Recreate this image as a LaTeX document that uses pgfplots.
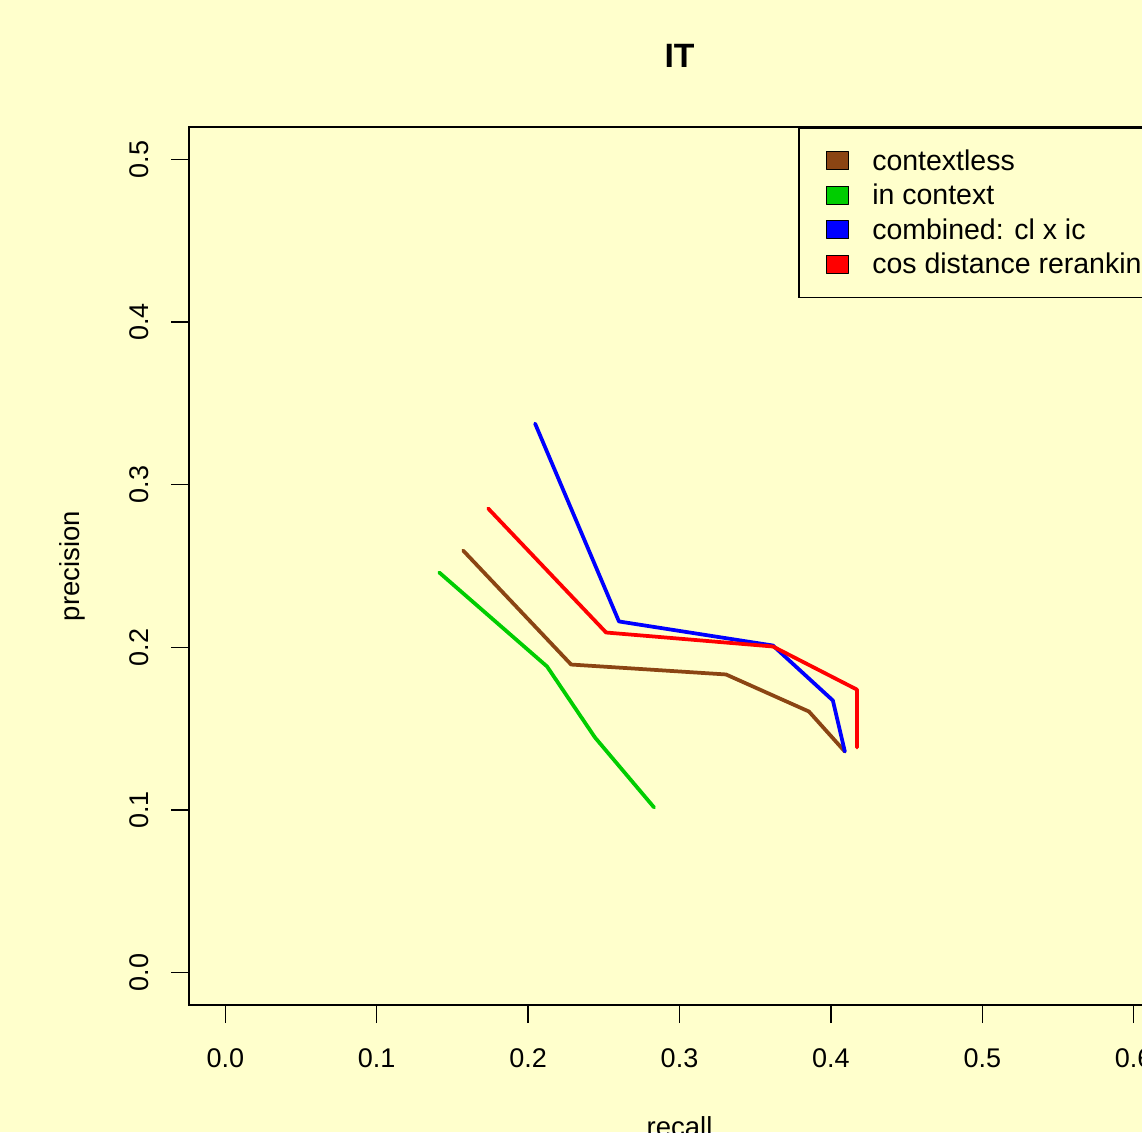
\documentclass[border=0pt]{standalone}
\usepackage{fontspec}
\setmainfont{Liberation Sans}
\usepackage{pgfplots}
\pgfplotsset{compat=1.18}
\definecolor{bgc}{HTML}{FFFFCC}
\definecolor{cbrown}{HTML}{8B4513}
\definecolor{cgreen}{HTML}{00CD00}
\begin{document}
\begin{tikzpicture}[x=1pt,y=1pt]
\fill[bgc] (0,0) rectangle (456.8,452.8);
\begin{axis}[
  at={(75.6pt,50.8pt)}, anchor=south west,
  scale only axis, width=392.4pt, height=351.2pt,
  xmin=-0.024, xmax=0.624, ymin=-0.02, ymax=0.52,
  xtick={0,0.1,0.2,0.3,0.4,0.5,0.6},
  ytick={0,0.1,0.2,0.3,0.4,0.5},
  tick pos=left, tick align=outside, major tick length=7.2pt,
  xticklabel shift=6.8pt, yticklabel shift=5.3pt,
  /pgf/number format/fixed, /pgf/number format/fixed zerofill,
  /pgf/number format/precision=1, /pgf/number format/assume math mode=true,
  tick label style={font=\fontsize{10.8}{13}\selectfont},
  yticklabel style={rotate=90, anchor=south},
  axis line style={line width=0.6pt},
  every tick/.style={black, line width=0.6pt},
  title={IT},
  title style={at={(axis description cs:0.5,1.0642)}, anchor=center, font=\fontsize{13.5}{16}\selectfont\bfseries},
  xlabel={recall},
  xlabel style={at={(axis description cs:0.5,-0.1389)}, anchor=center, font=\fontsize{11}{13}\selectfont},
  ylabel={precision},
  ylabel style={at={(axis description cs:-0.1193,0.5)}, anchor=center, font=\fontsize{11}{13}\selectfont},
  legend style={at={(1,1)}, anchor=north east, draw=black, line width=0.6pt, fill=bgc,
    font=\fontsize{11.4}{13}\selectfont, inner xsep=5.3pt, inner ysep=8.2pt,
    row sep=3.8pt, column sep=9.2pt,
    nodes={inner sep=0pt, text height=8.7pt, text depth=1.3pt}},
  legend cell align=left,
  legend image code/.code={\path (0pt,0pt); \filldraw[#1, draw=black, line width=0.5pt] (5.1pt,-3.6pt) rectangle (13.9pt,3.6pt);},
  every axis plot/.append style={line width=1.5pt, line cap=round, line join=round},
]
\addplot[color=cbrown] coordinates {(0.1571,0.2595) (0.2284,0.1894) (0.3307,0.1833) (0.3855,0.1605) (0.4092,0.1359)};
\addlegendentry{\makebox[113.5pt][l]{contextless}}
\addplot[color=cgreen] coordinates {(0.1413,0.2460) (0.2125,0.1882) (0.2442,0.1445) (0.2832,0.1015)};
\addlegendentry{\makebox[113.5pt][l]{in context}}
\addplot[color=blue] coordinates {(0.2046,0.3376) (0.2600,0.2159) (0.3617,0.2011) (0.4013,0.1673) (0.4092,0.1359)};
\addlegendentry{\makebox[113.5pt][l]{combined: cl x ic}}
\addplot[color=red] coordinates {(0.1736,0.2854) (0.2515,0.2091) (0.3617,0.2005) (0.4172,0.1740) (0.4172,0.1384)};
\addlegendentry{\makebox[113.5pt][l]{cos distance reranking}}
\end{axis}
\pgfresetboundingbox
\path[use as bounding box] (0,0) rectangle (456.8,452.8);
\end{tikzpicture}
\end{document}
